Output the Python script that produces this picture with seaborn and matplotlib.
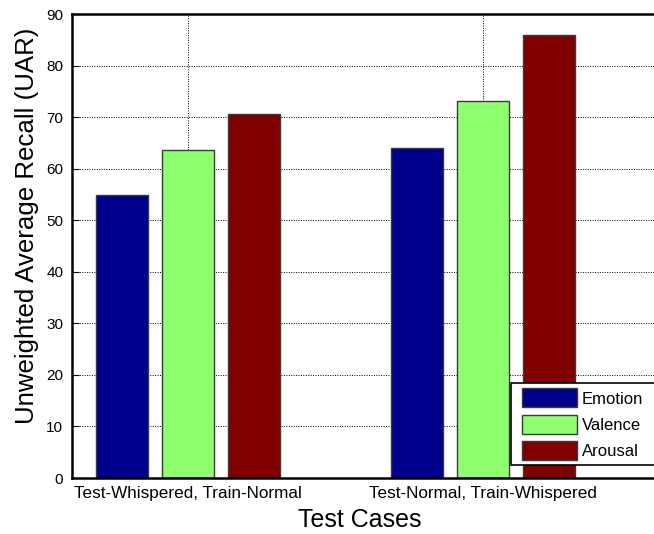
import matplotlib
matplotlib.use("Agg")
import matplotlib.pyplot as plt
import seaborn as sns
import pandas as pd

# Recall scores per test case and task
test_cases = ["Test-Whispered, Train-Normal", "Test-Normal, Train-Whispered"]
tasks = ["Emotion", "Valence", "Arousal"]
emotion_uar = [54.8, 64.0]
valence_uar = [63.6, 73.2]
arousal_uar = [70.7, 85.9]
y_ticks = [0, 10, 20, 30, 40, 50, 60, 70, 80, 90]

task_colors = {"Emotion": "#00008F", "Valence": "#8FFF70", "Arousal": "#800000"}

rows = []
for task, vals in zip(tasks, [emotion_uar, valence_uar, arousal_uar]):
    for case, v in zip(test_cases, vals):
        rows.append({"Test Case": case, "Task": task, "UAR": v})
df = pd.DataFrame(rows)

sns.set_style("white")
plt.rcParams["font.family"] = ["Liberation Sans", "DejaVu Sans"]
plt.rcParams["text.color"] = "black"
plt.rcParams["xtick.color"] = "black"
plt.rcParams["ytick.color"] = "black"
plt.rcParams["axes.labelcolor"] = "black"

W, H = 654, 534
fig = plt.figure(figsize=(W / 100, H / 100), dpi=100)

# axes placed in pixel terms; the right part runs past the figure edge
x_left, x_right = -0.395, 1.62
px_per_unit = 295.0
ax_left_px, ax_top_px, ax_bot_px = 71.5, 14, 478
ax_w_px = (x_right - x_left) * px_per_unit
ax = fig.add_axes([ax_left_px / W, (H - ax_bot_px) / H, ax_w_px / W, (ax_bot_px - ax_top_px) / H])

sns.barplot(data=df, x="Test Case", y="UAR", hue="Task", hue_order=tasks,
            order=test_cases, palette=task_colors, width=0.671, gap=0.2,
            edgecolor="#3a3a3a", linewidth=1.0, saturation=1, ax=ax, legend=False)

ax.set_xlim(x_left, x_right)
ax.set_ylim(0, 90)
ax.set_yticks(y_ticks)
ax.set_axisbelow(True)
ax.grid(True, which="major", axis="both", color="black", linestyle=(0, (1, 1.5)), linewidth=0.7)

for side in ["left", "top", "bottom", "right"]:
    ax.spines[side].set_visible(True)
    ax.spines[side].set_color("black")
    ax.spines[side].set_linewidth(1.8)

ax.tick_params(axis="y", direction="in", length=5, width=0.8, labelsize=11, pad=6, left=True,
               colors="black")
ax.tick_params(axis="x", direction="in", length=5, width=0.8, labelsize=12.3, pad=6, bottom=True,
               colors="black")

ax.set_xlabel("")
ax.set_ylabel("")
fig.text(360 / W, 1 - 520 / H, "Test Cases", ha="center", va="center", fontsize=18, color="black")
fig.text(27 / W, 1 - 226 / H, "Unweighted Average Recall (UAR)", ha="center", va="center",
         rotation=90, fontsize=18.6, color="black")

# legend box drawn as its own frame, entries placed inside it
frame = plt.Rectangle((511 / W, 1 - 465 / H), 200 / W, (465 - 382.7) / H,
                      transform=fig.transFigure, facecolor="white", edgecolor="black",
                      linewidth=1.2, zorder=4)
fig.patches.append(frame)

handles = [plt.Rectangle((0, 0), 1, 1, facecolor=task_colors[t], edgecolor="#3a3a3a", linewidth=1.0)
           for t in tasks]
leg = fig.legend(handles, tasks, loc="upper left", bbox_to_anchor=(521.7 / W, 1 - 388.5 / H),
                 bbox_transform=fig.transFigure, fontsize=12, frameon=False,
                 handlelength=3.3, handleheight=1.37, handletextpad=0.3, labelspacing=0.43,
                 borderpad=0, borderaxespad=0)
leg.set_zorder(5)

fig.savefig("out.png", dpi=100)
